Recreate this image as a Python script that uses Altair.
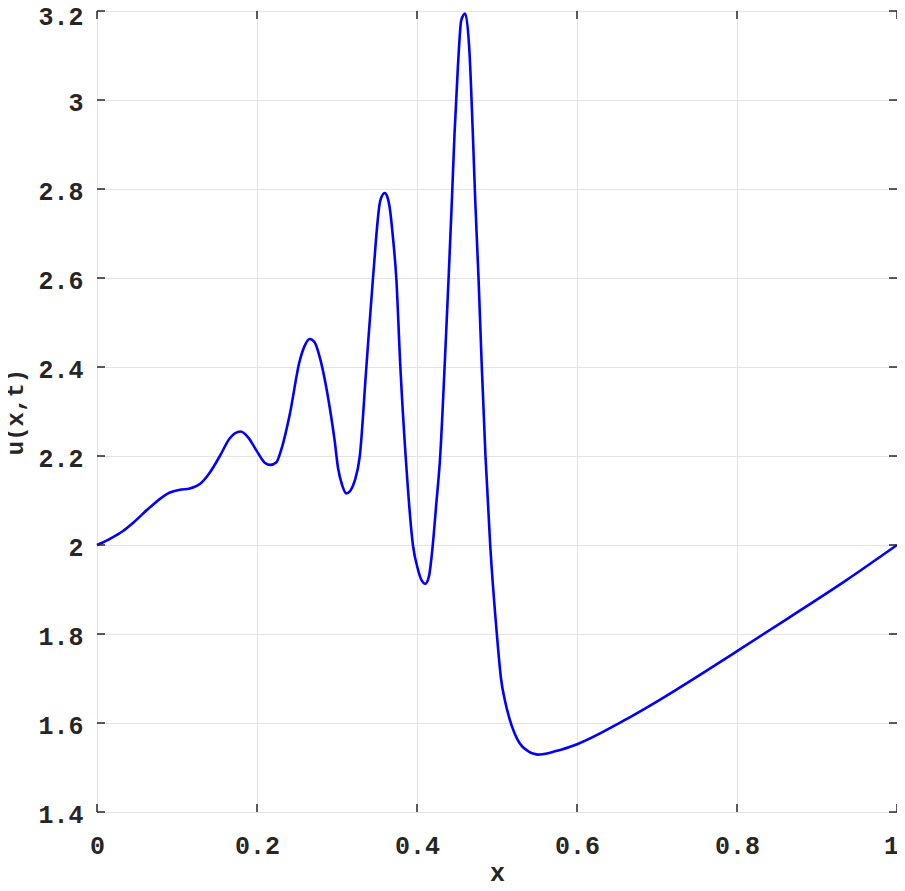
import altair as alt
import pandas as pd

# curve values
x_vals = [0.000, 0.0162, 0.0329, 0.0453, 0.0662, 0.0911, 0.1036, 0.1161, 0.1286, 0.1411,
          0.1536, 0.166, 0.1794, 0.1889, 0.1994, 0.2097, 0.2168, 0.2243, 0.2306, 0.2410,
          0.2534, 0.2597, 0.2659, 0.2722, 0.2784, 0.2846, 0.2909, 0.2971, 0.3012, 0.3067,
          0.3117, 0.3167, 0.3221, 0.3285, 0.3367, 0.3450, 0.3541, 0.3596, 0.3630, 0.3658,
          0.3700, 0.3741, 0.3792, 0.3858, 0.3949, 0.4012, 0.4054, 0.4104, 0.4150, 0.4190,
          0.4240, 0.4290, 0.4345, 0.4395, 0.4436, 0.4469, 0.4511, 0.4553, 0.4603, 0.4657,
          0.4698, 0.4728, 0.4769, 0.4810, 0.4856, 0.4915, 0.4998, 0.5050, 0.5106, 0.5156,
          0.5281, 0.5385, 0.551, 0.5739, 0.6009, 0.6571, 0.6987, 0.7278, 0.8006, 0.8652,
          0.9359, 1.0]
u_vals = [2.000, 2.014, 2.032, 2.050, 2.085, 2.118, 2.124, 2.127, 2.137, 2.163,
          2.200, 2.240, 2.255, 2.242, 2.212, 2.185, 2.180, 2.186, 2.216, 2.294,
          2.414, 2.448, 2.463, 2.455, 2.422, 2.373, 2.309, 2.234, 2.174, 2.133,
          2.116, 2.122, 2.144, 2.200, 2.400, 2.600, 2.774, 2.791, 2.782, 2.759,
          2.690, 2.600, 2.400, 2.200, 2.000, 1.945, 1.922, 1.913, 1.930, 1.987,
          2.090, 2.200, 2.400, 2.600, 2.774, 2.924, 3.074, 3.179, 3.194, 3.104,
          2.924, 2.774, 2.600, 2.400, 2.200, 2.000, 1.800, 1.700, 1.645, 1.610,
          1.555, 1.537, 1.529, 1.537, 1.553, 1.604, 1.647, 1.679, 1.762, 1.837,
          1.920, 2.0]

x_ticks = [0, 0.2, 0.4, 0.6, 0.8, 1]
y_ticks = [1.4, 1.6, 1.8, 2.0, 2.2, 2.4, 2.6, 2.8, 3.0, 3.2]

W = 800
H = 801
TICK = 8
FONT = "Liberation Mono"
DARK = "#262626"

df = pd.DataFrame({"x": x_vals, "u": u_vals})
xt = pd.DataFrame({"x": x_ticks})
yt = pd.DataFrame({"u": y_ticks})

xscale = alt.Scale(domain=[0, 1], nice=False, zero=False)
yscale = alt.Scale(domain=[1.4, 3.2], nice=False, zero=False)

xaxis = alt.Axis(values=x_ticks, format="~g", title="x", grid=True, gridColor="#e3e3e3",
                 gridWidth=1, ticks=False, domain=False, labelFlush=False,
                 labelFont=FONT, labelFontSize=25, labelFontWeight="bold", labelColor=DARK,
                 labelBaseline="middle", labelPadding=33,
                 labelOffset={"condition": {"test": "datum.value > 0.99", "value": -6}, "value": 0},
                 titleFont=FONT, titleFontSize=25, titleFontWeight="bold", titleColor=DARK,
                 titleBaseline="alphabetic", titleY=68)
yaxis = alt.Axis(values=y_ticks, format="~g", title="u(x,t)", grid=True, gridColor="#e3e3e3",
                 gridWidth=1, ticks=False, domain=False, labelFlush=False, labelOverlap=False,
                 labelFont=FONT, labelFontSize=25, labelFontWeight="bold", labelColor=DARK,
                 labelBaseline="middle", labelPadding=14,
                 labelOffset={"condition": {"test": "datum.value > 3.1", "value": 5}, "value": 2},
                 titleFont=FONT, titleFontSize=24, titleFontWeight="bold", titleColor=DARK,
                 titleAngle=270, titleAlign="center", titleBaseline="middle",
                 titleX=-82, titleY=H / 2)

x_enc = alt.X("x:Q", scale=xscale, axis=xaxis)
y_enc = alt.Y("u:Q", scale=yscale, axis=yaxis)

line = alt.Chart(df).mark_line(color="#0000ff", strokeWidth=2.6, interpolate="monotone").encode(
    x=x_enc, y=y_enc)

rule_style = dict(color=DARK, strokeWidth=1.5)
top_ticks = alt.Chart(xt).mark_rule(**rule_style).encode(x=x_enc, y=alt.value(0), y2=alt.value(TICK))
bot_ticks = alt.Chart(xt).mark_rule(**rule_style).encode(x=x_enc, y=alt.value(H - TICK), y2=alt.value(H))
left_ticks = alt.Chart(yt).mark_rule(**rule_style).encode(y=y_enc, x=alt.value(0), x2=alt.value(TICK))
right_ticks = alt.Chart(yt).mark_rule(**rule_style).encode(y=y_enc, x=alt.value(W - TICK), x2=alt.value(W))

chart = alt.layer(line, top_ticks, bot_ticks, left_ticks, right_ticks).properties(
    width=W, height=H,
    autosize=alt.AutoSizeParams(type="none"),
    padding={"left": 89, "top": 3, "right": 0, "bottom": 71},
).configure_view(stroke=DARK, strokeWidth=1.5).configure(background="white")

chart.save("out.html", embed_options={"renderer": "svg", "actions": False})
